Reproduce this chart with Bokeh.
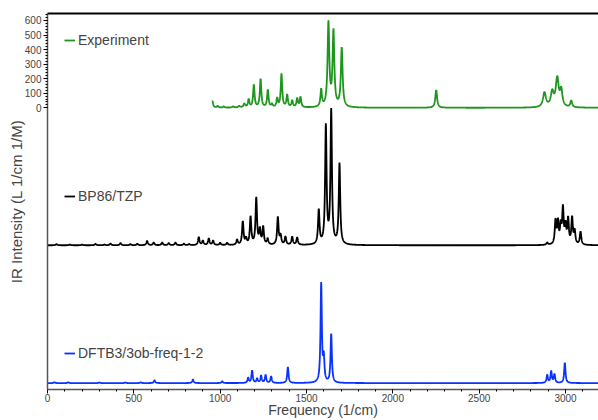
import numpy as np
from bokeh.plotting import figure
from bokeh.models import Range1d, FixedTicker, LinearAxis, Legend, LegendItem
from bokeh.embed import file_html
from bokeh.resources import INLINE

# ---- data (peak positions in 1/cm, heights in L 1/cm 1/M) ----
exp_pos = [955, 985, 1020, 1075, 1110, 1140, 1165, 1195, 1234, 1276, 1300, 1330, 1355,
           1388, 1417, 1446, 1465, 1585, 1627, 1656, 1704, 2251, 2878, 2923, 2952, 2975, 3033]
exp_height = [45, 12, 8, 8, 10, 25, 55, 155, 195, 120, 20, 60, 230,
              85, 45, 60, 70, 118, 575, 515, 405, 122, 100, 100, 195, 110, 45]
exp_hwhm = [5, 5, 6, 6, 6, 6, 5, 5, 5, 5, 5, 5, 5,
            5, 5, 5, 5, 5, 6, 6, 6, 6, 10, 10, 10, 8, 6]
exp_start = 954

bp86_pos = [52, 130, 200, 278, 330, 365, 423, 480, 520, 577, 615, 664, 702, 741, 790, 820,
            876, 900, 934, 959, 1000, 1040, 1098, 1131, 1150, 1176, 1209, 1230, 1249, 1275,
            1334, 1350, 1378, 1417, 1446, 1571, 1612, 1643, 1691,
            2894, 2942, 2956, 2972, 2985, 3000, 3015, 3038, 3053, 3087]
bp86_height = [8, 5, 5, 10, 5, 12, 15, 8, 10, 30, 18, 18, 15, 18, 10, 8,
               55, 30, 45, 30, 15, 15, 35, 160, 40, 190, 320, 100, 120, 40,
               190, 60, 55, 55, 50, 235, 810, 915, 555,
               15, 160, 150, 120, 240, 120, 170, 180, 90, 90]
bp86_hwhm = 5
bp86_offset = -945

dftb_pos = [40, 120, 300, 450, 540, 620, 842, 1012, 1162, 1185, 1214, 1237, 1263, 1295,
            1392, 1585, 1600, 1643, 2894, 2917, 2936, 2996]
dftb_height = [6, 5, 4, 4, 5, 20, 25, 12, 35, 85, 30, 50, 55, 45,
               110, 680, 160, 335, 55, 80, 60, 140]
dftb_hwhm = 4.5
dftb_offset = -1892

x_ticks = [0, 500, 1000, 1500, 2000, 2500, 3000]
x_minor_ticks = list(range(0, 3200, 100))
y_ticks = [0, 100, 200, 300, 400, 500, 600]
y_minor_ticks = list(range(0, 641, 20))

labels = ["Experiment", "BP86/TZP", "DFTB3/3ob-freq-1-2"]
colors = ["#1e961e", "#000000", "#0a32ff"]

FONT = "Liberation Sans"


def broaden(grid, pos, height, hwhm):
    pos = np.asarray(pos, float)
    height = np.asarray(height, float)
    hwhm = np.broadcast_to(np.asarray(hwhm, float), pos.shape)
    out = np.zeros_like(grid)
    for p0, h0, g0 in zip(pos, height, hwhm):
        out += h0 / (1.0 + ((grid - p0) / g0) ** 2)
    return out


grid_exp = np.arange(exp_start, 3200.5, 1.0)
grid_sim = np.arange(0, 3200.5, 1.0)
y_exp = broaden(grid_exp, exp_pos, exp_height, exp_hwhm)
y_bp = broaden(grid_sim, bp86_pos, bp86_height, bp86_hwhm) + bp86_offset
y_df = broaden(grid_sim, dftb_pos, dftb_height, dftb_hwhm) + dftb_offset

p = figure(width=598, height=420, output_backend="svg", toolbar_location=None,
           x_range=Range1d(0, 3191), y_range=Range1d(-1936, 648),
           min_border_left=47, min_border_top=13, min_border_bottom=20, min_border_right=0)
p.outline_line_color = None
p.grid.visible = False
p.background_fill_color = "white"

r_exp = p.line(grid_exp, y_exp, line_color=colors[0], line_width=1.8)
r_bp = p.line(grid_sim, y_bp, line_color=colors[1], line_width=1.8)
r_df = p.line(grid_sim, y_df, line_color=colors[2], line_width=1.8)

# x axis
xa = p.xaxis[0]
xa.ticker = FixedTicker(ticks=x_ticks, minor_ticks=x_minor_ticks)
xa.major_tick_in = 0
xa.major_tick_out = 4
xa.minor_tick_in = 0
xa.minor_tick_out = 2
xa.major_label_standoff = 0
xa.major_label_text_font = FONT
xa.major_label_text_font_size = "10px"
xa.axis_line_color = "#555555"
xa.axis_line_width = 1.5
xa.axis_label = "Frequency (1/cm)"
xa.axis_label_text_font = FONT
xa.axis_label_text_font_size = "14px"
xa.axis_label_text_font_style = "normal"
xa.axis_label_standoff = -3

# y axis
ya = p.yaxis[0]
ya.ticker = FixedTicker(ticks=y_ticks, minor_ticks=y_minor_ticks)
ya.major_tick_in = 0
ya.major_tick_out = 4
ya.minor_tick_in = 0
ya.minor_tick_out = 2
ya.major_label_standoff = 2
ya.major_label_text_font = FONT
ya.major_label_text_font_size = "10px"
ya.axis_line_color = "#555555"
ya.axis_line_width = 1.5
ya.axis_label = "IR Intensity (L 1/cm 1/M)"
ya.axis_label_text_font = FONT
ya.axis_label_text_font_size = "15px"
ya.axis_label_text_font_style = "normal"
ya.axis_label_standoff = -3

# top frame line
top = LinearAxis(ticker=FixedTicker(ticks=[]), major_label_text_font_size="0px",
                 axis_line_color="black", axis_line_width=2,
                 major_tick_line_color=None, minor_tick_line_color=None)
p.add_layout(top, "above")

for rend, lab, loc in [(r_exp, labels[0], (17, 341)), (r_bp, labels[1], (17, 185)),
                       (r_df, labels[2], (17, 28))]:
    lg = Legend(items=[LegendItem(label=lab, renderers=[rend])], location=loc,
                border_line_color=None, background_fill_alpha=0, padding=0, margin=0,
                spacing=0, glyph_width=11, glyph_height=16, label_height=16,
                label_standoff=3, label_text_font=FONT, label_text_font_size="14px")
    p.add_layout(lg, "center")

open("out.html", "w").write(file_html(p, INLINE))
